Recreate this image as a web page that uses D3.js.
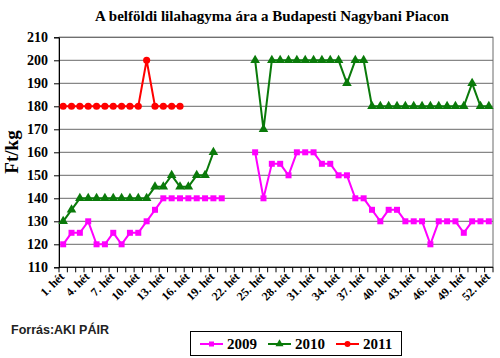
<!DOCTYPE html>
<html><head><meta charset="utf-8">
<script src="https://cdn.jsdelivr.net/npm/d3@7/dist/d3.min.js"></script>
<style>body{margin:0;background:#fff}svg{display:block}</style>
</head><body>
<svg id="c" width="500" height="358"></svg>
<script>
const weeks = d3.range(1, 53).map(i => i + ". hét");
const labelWeeks = [1,4,7,10,13,16,19,22,25,28,31,34,37,40,43,46,49,52].map(i => i + ". hét");
const yTicks = [110,120,130,140,150,160,170,180,190,200,210];
const v2009 = [120,125,125,130,120,120,125,120,125,125,130,135,140,140,140,140,140,140,140,140,null,null,null,160,140,155,155,150,160,160,160,155,155,150,150,140,140,135,130,135,135,130,130,130,120,130,130,130,125,130,130,130];
const v2010 = [130,135,140,140,140,140,140,140,140,140,140,145,145,150,145,145,150,150,160,null,null,null,null,200,170,200,200,200,200,200,200,200,200,200,190,200,200,180,180,180,180,180,180,180,180,180,180,180,180,190,180,180];
const v2011 = [180,180,180,180,180,180,180,180,180,180,200,180,180,180,180];
const seriesNames = ["2009","2010","2011"];
const seriesColors = ["#ff00ff","#0a7a0a","#ff0000"];
const seriesShapes = [d3.symbolSquare, d3.symbolTriangle, d3.symbolCircle];
const seriesSizes = [36, 40, 40];
const title = "A belföldi lilahagyma ára a Budapesti Nagybani Piacon";
const yTitle = "Ft/kg";
const source = "Forrás:AKI PÁIR";

const svg = d3.select("#c");
const L = 59, R = 493, T = 37.3, B = 267.3;
const x = d3.scaleBand().domain(weeks).range([L, R]);
const y = d3.scaleLinear().domain([110, 210]).range([B, T]);
const cx = w => x(w) + x.bandwidth() / 2;
const serif = "'Liberation Serif','Times New Roman',serif";

// gridlines
svg.append("g").selectAll("line").data(yTicks).join("line")
  .attr("x1", L).attr("x2", R).attr("y1", d => y(d)).attr("y2", d => y(d))
  .attr("stroke", "#6a6a6a").attr("stroke-width", 1);
// plot border
svg.append("rect").attr("x", L).attr("y", T).attr("width", R - L).attr("height", B - T)
  .attr("fill", "none").attr("stroke", "#6a6a6a");

// y axis
const ya = svg.append("g").attr("transform", `translate(${L},0)`)
  .call(d3.axisLeft(y).tickValues(yTicks).tickSize(5).tickPadding(6).tickFormat(d3.format("d")));
ya.select(".domain").attr("stroke", "#000");
ya.selectAll(".tick line").attr("stroke", "#000");
ya.selectAll("text").attr("font-family", serif).attr("font-weight", "bold").attr("font-size", 14).attr("fill", "#000");

// x axis
svg.append("line").attr("x1", L).attr("x2", R).attr("y1", B).attr("y2", B).attr("stroke", "#000");
const bounds = weeks.map(w => x(w)).concat([R]);
svg.append("g").selectAll("line").data(bounds).join("line")
  .attr("x1", d => d).attr("x2", d => d).attr("y1", B).attr("y2", B + 5).attr("stroke", "#000");
svg.append("g").selectAll("text").data(labelWeeks).join("text")
  .attr("transform", d => `translate(${cx(d) + 2},${B + 10}) rotate(-45)`)
  .attr("text-anchor", "end")
  .attr("font-family", serif).attr("font-weight", "bold").attr("font-size", 12)
  .text(d => d);

// series
const allVals = [v2009, v2010, v2011];
allVals.forEach((vals, i) => {
  const pts = vals.map((v, j) => ({w: weeks[j], v}));
  const line = d3.line().defined(d => d.v != null).x(d => cx(d.w)).y(d => y(d.v));
  svg.append("path").datum(pts).attr("d", line).attr("fill", "none")
    .attr("stroke", seriesColors[i]).attr("stroke-width", 2);
  svg.append("g").selectAll("path").data(pts.filter(d => d.v != null)).join("path")
    .attr("transform", d => `translate(${cx(d.w)},${y(d.v)})`)
    .attr("d", d3.symbol().type(seriesShapes[i]).size(seriesSizes[i]))
    .attr("fill", seriesColors[i]);
});

// title
svg.append("text").attr("x", 272).attr("y", 21).attr("text-anchor", "middle")
  .attr("font-family", serif).attr("font-weight", "bold").attr("font-size", 15)
  .text(title);
// y title
svg.append("text").attr("transform", "translate(18,152) rotate(-90)").attr("text-anchor", "middle")
  .attr("font-family", serif).attr("font-weight", "bold").attr("font-size", 19)
  .text(yTitle);
// source
svg.append("text").attr("x", 11).attr("y", 334)
  .attr("font-family", "'Liberation Sans',Arial,sans-serif").attr("font-weight", "bold").attr("font-size", 12.5)
  .attr("fill", "#222").text(source);

// legend
const lg = svg.append("g");
lg.append("rect").attr("x", 190.5).attr("y", 331.5).attr("width", 211).attr("height", 24)
  .attr("fill", "#fff").attr("stroke", "#000");
const lx = [200, 268, 336];
seriesNames.forEach((n, i) => {
  lg.append("line").attr("x1", lx[i]).attr("x2", lx[i] + 23).attr("y1", 344).attr("y2", 344)
    .attr("stroke", seriesColors[i]).attr("stroke-width", 2);
  lg.append("path").attr("transform", `translate(${lx[i] + 11.5},344)`)
    .attr("d", d3.symbol().type(seriesShapes[i]).size(seriesSizes[i] * 0.7)).attr("fill", seriesColors[i]);
  lg.append("text").attr("x", lx[i] + 27).attr("y", 349)
    .attr("font-family", serif).attr("font-weight", "bold").attr("font-size", 15).text(n);
});
</script>
</body></html>
